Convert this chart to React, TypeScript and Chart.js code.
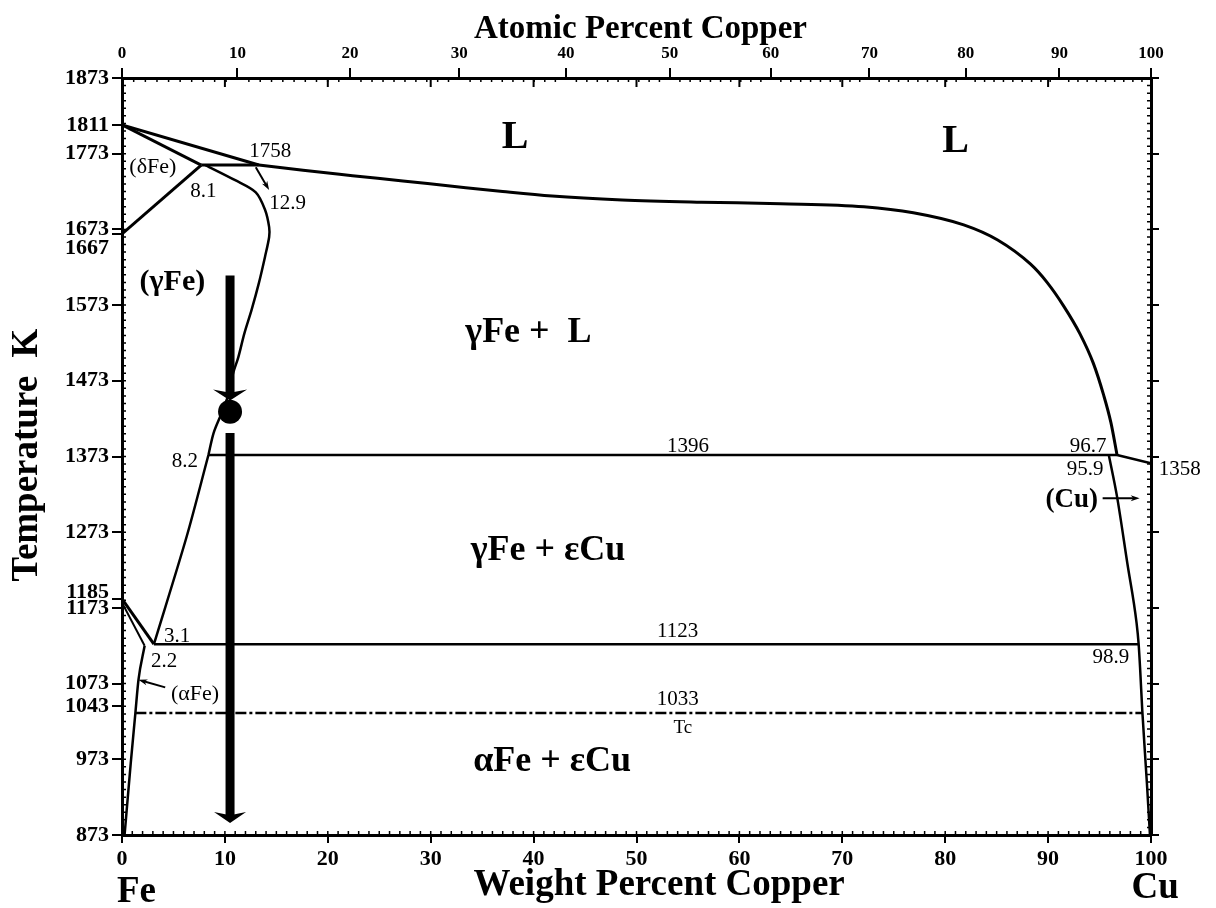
import React, { useEffect, useRef } from 'react';
import { Chart, registerables } from 'chart.js';

Chart.register(...registerables);

const SERIF = '"Liberation Serif", "Times New Roman", "DejaVu Serif", serif';

// ---- axes ----
const weightTicks = [0, 10, 20, 30, 40, 50, 60, 70, 80, 90, 100];
const atomicTicks = [0, 10, 20, 30, 40, 50, 60, 70, 80, 90, 100];
const temperatureTicks = [873, 973, 1043, 1073, 1173, 1185, 1273, 1373, 1473, 1573, 1667, 1673, 1773, 1811, 1873];
const rightTemperatureTicks = [873, 973, 1073, 1173, 1273, 1373, 1473, 1573, 1673, 1773, 1873];
const shiftedLabels = [1667, 1185];

const CU_MASS = 63.546;
const FE_MASS = 55.845;
const atomicToWeight = (a: number) => (100 * a * CU_MASS) / (a * CU_MASS + (100 - a) * FE_MASS);

// ---- phase boundaries (wt% Cu, K) ----
const liquidusFeWt = [0, 13.3];
const liquidusFeK = [1811, 1758];
const liquidusWt = [13.3, 17.6, 22.4, 27.3, 32.1, 37.0, 41.8, 48.6, 56.3, 64.0, 72.1, 76.9, 81.8, 85.1, 88.3, 89.9, 91.5, 93.1, 94.4, 95.4, 96.1, 96.7];
const liquidusK = [1758, 1751, 1744, 1737, 1730, 1723, 1717, 1712, 1709, 1707, 1703, 1695, 1679, 1659, 1627, 1603, 1572, 1535, 1496, 1454, 1418, 1375];
const deltaSolidusWt = [0, 7.7];
const deltaSolidusK = [1811, 1758];
const deltaGammaWt = [0, 7.7];
const deltaGammaK = [1667, 1758];
const peritecticWt = [7.7, 13.3];
const peritecticK = [1758, 1758];
const gammaUpperWt = [8.1, 11.0, 13.0, 13.9, 14.3, 14.3, 13.9, 13.3, 12.6, 11.9, 11.3, 10.8, 10.4, 9.7, 8.9, 8.4];
const gammaUpperK = [1758, 1738, 1722, 1699, 1676, 1663, 1637, 1602, 1567, 1536, 1504, 1483, 1457, 1431, 1404, 1375];
const gammaLowerWt = [8.4, 6.3, 3.1];
const gammaLowerK = [1375, 1268, 1125];
const monotecticWt = [8.4, 96.7];
const monotecticK = [1375, 1375];
const cuLiquidusWt = [96.7, 100];
const cuLiquidusK = [1375, 1364];
const cuSolidusWt = [95.9, 96.7, 97.7, 98.6, 98.8, 98.95, 99.15, 99.6, 99.9];
const cuSolidusK = [1375, 1320, 1232, 1153, 1125, 1091, 1038, 942, 873];
const eutectoidWt = [3.1, 98.8];
const eutectoidK = [1125, 1125];
const a3UpperWt = [0, 3.1];
const a3UpperK = [1185, 1125];
const a3LowerWt = [0, 2.2];
const a3LowerK = [1180, 1123];
const alphaSolvusWt = [0.25, 0.85, 1.3, 1.6, 2.2];
const alphaSolvusK = [873, 968, 1034, 1078, 1123];
const curieWt = [1.3, 99.15];
const curieK = [1034, 1034];
const alloyWt = [10.5];
const alloyK = [1432];

// ---- arrows (wt%, K) ----
const arrows = [
  { from: [10.5, 1612], to: [10.5, 1447], width: 9, head: 11, headWidth: 34 },
  { from: [10.5, 1404], to: [10.5, 889], width: 9, head: 11, headWidth: 32 },
  { from: [13.0, 1755], to: [14.3, 1725], width: 2, head: 9, headWidth: 6 },
  { from: [4.2, 1068], to: [1.6, 1078], width: 2, head: 9, headWidth: 6 },
  { from: [95.3, 1318], to: [98.9, 1318], width: 2, head: 9, headWidth: 6 },
];

// ---- text annotations (wt%, K) ----
const annotations = [
  { text: 'L', wt: 38.2, k: 1780, size: 40, bold: true },
  { text: 'L', wt: 81.0, k: 1775, size: 40, bold: true },
  { text: '(δFe)', wt: 3.0, k: 1747, size: 22, bold: false },
  { text: '8.1', wt: 7.9, k: 1716, size: 21, bold: false },
  { text: '1758', wt: 14.4, k: 1769, size: 21, bold: false },
  { text: '12.9', wt: 16.1, k: 1700, size: 21, bold: false },
  { text: '(γFe)', wt: 4.9, k: 1593, size: 30, bold: true },
  { text: 'γFe +  L', wt: 39.5, k: 1524, size: 36, bold: true },
  { text: '1396', wt: 55.0, k: 1379, size: 21, bold: false },
  { text: '8.2', wt: 6.1, k: 1359, size: 21, bold: false },
  { text: '96.7', wt: 93.9, k: 1379, size: 21, bold: false },
  { text: '95.9', wt: 93.6, k: 1349, size: 21, bold: false },
  { text: '1358', wt: 102.8, k: 1349, size: 21, bold: false },
  { text: '(Cu)', wt: 92.3, k: 1306, size: 27, bold: true },
  { text: 'γFe + εCu', wt: 41.4, k: 1236, size: 36, bold: true },
  { text: '3.1', wt: 5.35, k: 1128, size: 21, bold: false },
  { text: '2.2', wt: 4.1, k: 1095, size: 21, bold: false },
  { text: '1123', wt: 54.0, k: 1135, size: 21, bold: false },
  { text: '98.9', wt: 96.1, k: 1100, size: 21, bold: false },
  { text: '(αFe)', wt: 7.1, k: 1051, size: 22, bold: false },
  { text: '1033', wt: 54.0, k: 1045, size: 21, bold: false },
  { text: 'Tc', wt: 54.5, k: 1008, size: 19, bold: false },
  { text: 'αFe + εCu', wt: 41.8, k: 957, size: 36, bold: true },
];

const pts = (xs: number[], ys: number[]) => xs.map((x, i) => ({ x, y: ys[i] }));

const line = (xs: number[], ys: number[], width = 3, curve: 'none' | 'monotone' | 'bezier' = 'none', dash: number[] = []) => ({
  data: pts(xs, ys),
  showLine: true,
  borderColor: '#000',
  backgroundColor: '#000',
  borderWidth: width,
  borderDash: dash,
  pointRadius: 0,
  tension: curve === 'bezier' ? 0.3 : curve === 'monotone' ? 0.4 : 0,
  cubicInterpolationMode: curve === 'monotone' ? 'monotone' : 'default',
  fill: false,
});

function drawArrow(ctx: CanvasRenderingContext2D, x1: number, y1: number, x2: number, y2: number, w: number, hl: number, hw: number) {
  const ang = Math.atan2(y2 - y1, x2 - x1);
  const dx = Math.cos(ang), dy = Math.sin(ang);
  const bx = x2 - dx * hl, by = y2 - dy * hl;
  const nx = -dy, ny = dx;
  ctx.lineWidth = w;
  ctx.lineCap = 'butt';
  ctx.beginPath();
  ctx.moveTo(x1, y1);
  ctx.lineTo(bx + dx * hl * 0.4, by + dy * hl * 0.4);
  ctx.stroke();
  ctx.beginPath();
  ctx.moveTo(x2, y2);
  ctx.lineTo(bx + nx * hw / 2, by + ny * hw / 2);
  ctx.lineTo(bx + dx * hl * 0.3, by + dy * hl * 0.3);
  ctx.lineTo(bx - nx * hw / 2, by - ny * hw / 2);
  ctx.closePath();
  ctx.fill();
}

const decor = {
  id: 'decor',
  afterDraw(chart: any) {
    const ctx: CanvasRenderingContext2D = chart.ctx;
    const xs = chart.scales.x;
    const ys = chart.scales.y;
    const { left, right, top, bottom } = chart.chartArea;
    const X = (v: number) => xs.getPixelForValue(v);
    const Y = (v: number) => ys.getPixelForValue(v);
    ctx.save();
    ctx.strokeStyle = '#000';
    ctx.fillStyle = '#000';

    // minor inward ticks
    ctx.lineWidth = 1.5;
    ctx.beginPath();
    for (let k = 883; k < 1873; k += 10) {
      const py = Y(k);
      ctx.moveTo(left, py); ctx.lineTo(left + 4, py);
      ctx.moveTo(right, py); ctx.lineTo(right - 4, py);
    }
    for (let w = 1; w < 100; w++) {
      const px = X(w);
      ctx.moveTo(px, bottom); ctx.lineTo(px, bottom - 4);
    }
    for (let a = 1; a < 100; a++) {
      if (a % 10 === 0) continue;
      const px = X(atomicToWeight(a));
      ctx.moveTo(px, top); ctx.lineTo(px, top + 4);
    }
    ctx.stroke();
    ctx.lineWidth = 2;
    ctx.beginPath();
    for (let w = 10; w < 100; w += 10) {
      const px = X(w);
      ctx.moveTo(px, top); ctx.lineTo(px, top + 9);
    }
    ctx.stroke();

    // arrows
    arrows.forEach((a) => {
      drawArrow(ctx, X(a.from[0]), Y(a.from[1]), X(a.to[0]), Y(a.to[1]), a.width, a.head, a.headWidth);
    });

    // annotations
    ctx.textAlign = 'center';
    ctx.textBaseline = 'alphabetic';
    annotations.forEach((t) => {
      ctx.font = `${t.bold ? 'bold ' : ''}${t.size}px ${SERIF}`;
      ctx.fillText(t.text, X(t.wt), Y(t.k));
    });

    // shifted y tick labels
    ctx.font = `bold 22px ${SERIF}`;
    ctx.textAlign = 'right';
    ctx.textBaseline = 'middle';
    ctx.fillText(String(shiftedLabels[0]), left - 13, Y(shiftedLabels[0]) + 14);
    ctx.fillText(String(shiftedLabels[1]), left - 13, Y(shiftedLabels[1]) - 7);

    // titles
    ctx.textAlign = 'center';
    ctx.textBaseline = 'alphabetic';
    ctx.font = `bold 33px ${SERIF}`;
    ctx.fillText('Atomic Percent Copper', (left + right) / 2 + 4, 38);
    ctx.font = `bold 37px ${SERIF}`;
    ctx.fillText('Weight Percent Copper', X(52.2), 895);
    ctx.fillText('Fe', X(1.4), 902);
    ctx.fillText('Cu', X(100.4), 898);
    ctx.save();
    ctx.translate(37, 455);
    ctx.rotate(-Math.PI / 2);
    ctx.fillText('Temperature  K', 0, 0);
    ctx.restore();

    ctx.restore();
  },
};

export default function App() {
  const ref = useRef<HTMLCanvasElement>(null);
  useEffect(() => {
    if (!ref.current) return;
    const tickFont = { family: SERIF, size: 22, weight: 'bold' as const };
    const chart = new Chart(ref.current, {
      type: 'scatter',
      data: {
        datasets: [
          line(liquidusFeWt, liquidusFeK, 3),
          line(liquidusWt, liquidusK, 3, 'monotone'),
          line(deltaSolidusWt, deltaSolidusK, 3),
          line(deltaGammaWt, deltaGammaK, 3),
          line(peritecticWt, peritecticK, 3),
          line(gammaUpperWt, gammaUpperK, 2.5, 'bezier'),
          line(gammaLowerWt, gammaLowerK, 2.5, 'bezier'),
          line(monotecticWt, monotecticK, 2.5),
          line(cuLiquidusWt, cuLiquidusK, 2.5),
          line(cuSolidusWt, cuSolidusK, 2.5, 'monotone'),
          line(eutectoidWt, eutectoidK, 2.5),
          line(a3UpperWt, a3UpperK, 3),
          line(a3LowerWt, a3LowerK, 2),
          line(alphaSolvusWt, alphaSolvusK, 2.5, 'monotone'),
          line(curieWt, curieK, 2.5, 'none', [11, 3, 3, 3]),
          {
            data: pts(alloyWt, alloyK),
            showLine: false,
            pointRadius: 12,
            pointBackgroundColor: '#000',
            pointBorderColor: '#000',
            pointBorderWidth: 0,
          },
        ] as any,
      },
      options: {
        responsive: false,
        animation: false,
        devicePixelRatio: 1,
        events: [],
        layout: { padding: 0 },
        plugins: { legend: { display: false }, tooltip: { enabled: false } },
        scales: {
          x: {
            type: 'linear',
            position: 'bottom',
            min: 0,
            max: 100,
            afterBuildTicks: (s: any) => { s.ticks = weightTicks.map((v) => ({ value: v })); },
            afterFit: (s: any) => { s.height = 73; },
            ticks: { autoSkip: false, maxRotation: 0, minRotation: 0, padding: 3, color: '#000', font: tickFont },
            grid: { drawOnChartArea: false, tickLength: 8, color: '#000', lineWidth: 2 },
            border: { color: '#000', width: 3 },
          },
          x2: {
            type: 'linear',
            position: 'top',
            min: 0,
            max: 100,
            afterBuildTicks: (s: any) => { s.ticks = atomicTicks.map((a) => ({ value: atomicToWeight(a) })); },
            afterFit: (s: any) => { s.height = 78; },
            ticks: {
              autoSkip: false, maxRotation: 0, minRotation: 0, padding: 4, color: '#000',
              font: { family: SERIF, size: 17, weight: 'bold' },
              callback: (_v: any, i: number) => String(atomicTicks[i]),
            },
            grid: { drawOnChartArea: false, tickLength: 10, color: '#000', lineWidth: 2 },
            border: { color: '#000', width: 3 },
          },
          y: {
            type: 'linear',
            position: 'left',
            min: 873,
            max: 1873,
            afterBuildTicks: (s: any) => { s.ticks = temperatureTicks.map((v) => ({ value: v })); },
            afterFit: (s: any) => { s.width = 122; },
            ticks: {
              autoSkip: false, padding: 3, color: '#000', font: tickFont,
              callback: (v: any) => (shiftedLabels.includes(Number(v)) ? '' : String(v)),
            },
            grid: { drawOnChartArea: false, tickLength: 10, color: '#000', lineWidth: 2 },
            border: { color: '#000', width: 3 },
          },
          y2: {
            type: 'linear',
            position: 'right',
            min: 873,
            max: 1873,
            afterBuildTicks: (s: any) => { s.ticks = rightTemperatureTicks.map((v) => ({ value: v })); },
            afterFit: (s: any) => { s.width = 65; },
            ticks: { display: false },
            grid: { drawOnChartArea: false, tickLength: 8, color: '#000', lineWidth: 2 },
            border: { color: '#000', width: 3 },
          },
        },
      } as any,
      plugins: [decor],
    });
    return () => chart.destroy();
  }, []);

  return (
    <div style={{ position: 'absolute', left: 0, top: 0, width: 1216, height: 908, background: '#fff' }}>
      <canvas ref={ref} width={1216} height={908} style={{ display: 'block' }} />
    </div>
  );
}
